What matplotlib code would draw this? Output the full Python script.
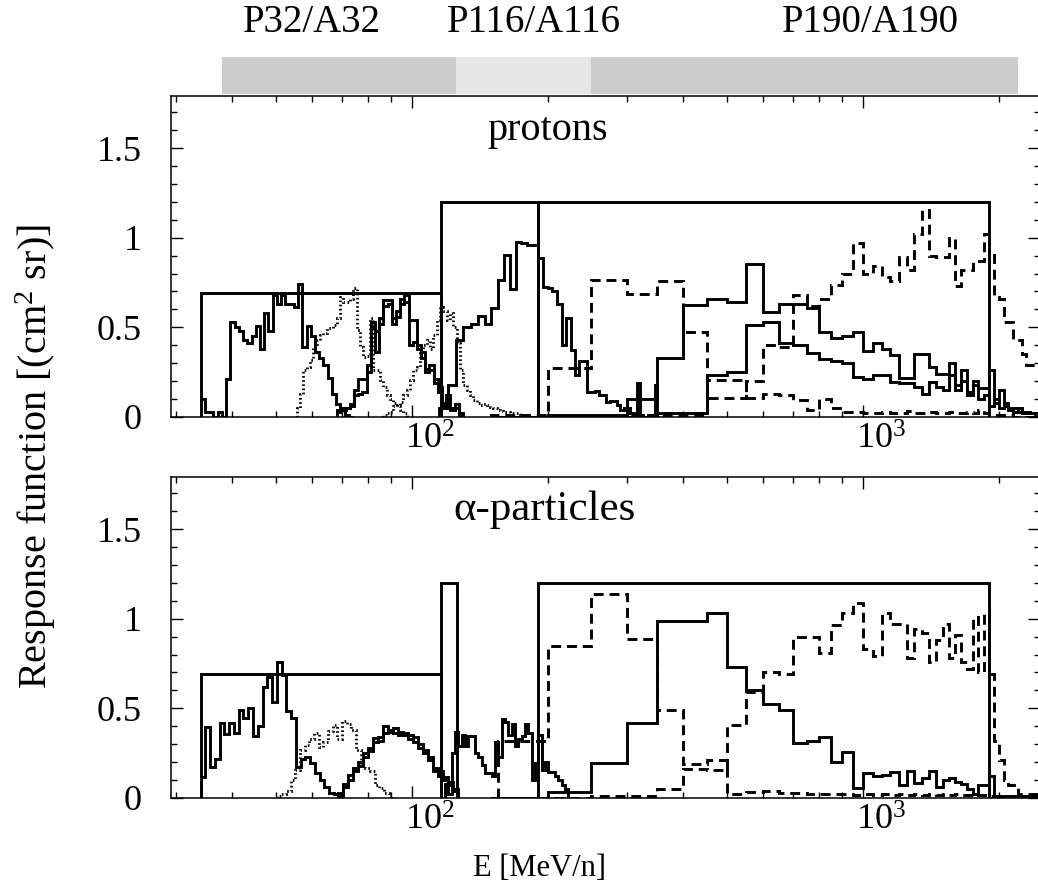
import numpy as np
import matplotlib
matplotlib.use("Agg")
import matplotlib.pyplot as plt
from matplotlib.ticker import LogLocator, NullFormatter, MultipleLocator, FuncFormatter
from matplotlib.transforms import blended_transform_factory, ScaledTranslation

plt.rcParams['font.family'] = ['Liberation Serif', 'DejaVu Serif']
plt.rcParams['mathtext.fontset'] = 'custom'
plt.rcParams['mathtext.rm'] = 'Liberation Serif'
plt.rcParams['mathtext.it'] = 'Liberation Serif:italic'

# ---------------- instrument ranges (top bar) ----------------
bar_edges = [38, 125, 250, 2200]
bar_colors = ['#cccccc', '#e6e6e6', '#cccccc']
bar_labels = ['P32/A32', 'P116/A116', 'P190/A190']
bar_label_pos = [60, 186, 1036]

# ---------------- geometric-factor boxes ----------------
p_box_edges = [(34.05, 116), (116, 190), (190, 1900)]
p_box_heights = [0.69, 1.2, 1.2]
a_box_edges = [(34.05, 116), (116, 126.1), (190, 1900)]
a_box_heights = [0.69, 1.2, 1.2]

# ---------------- protons ----------------
pA_range = (34.05, 74.1)
pA = [0.10, 0.03, 0.03, 0.0, 0.03, 0.0, 0.21, 0.53, 0.50, 0.48, 0.43, 0.41, 0.45, 0.51,
      0.38, 0.58, 0.48, 0.68, 0.63, 0.68, 0.63, 0.63, 0.615, 0.74, 0.39, 0.51, 0.45, 0.36,
      0.33, 0.29, 0.22, 0.13, 0.07, 0.04, 0.01, 0.0]
pB_range = (68.3, 129.9)
pB = [0.04, 0.05, 0.05, 0.07, 0.15, 0.21, 0.21, 0.29, 0.53, 0.48, 0.55, 0.65, 0.65, 0.55,
      0.59, 0.66, 0.68, 0.54, 0.54, 0.40, 0.36, 0.27, 0.29, 0.21, 0.17, 0.08, 0.10, 0.05,
      0.07, 0.02]
pB2 = [0.03, 0.04, 0.05, 0.06, 0.12, 0.13, 0.14, 0.25, 0.50, 0.36, 0.52, 0.62, 0.63, 0.52,
       0.56, 0.63, 0.64, 0.40, 0.42, 0.38, 0.33, 0.25, 0.26, 0.19, 0.14, 0.06, 0.12, 0.04,
       0.05, 0.01]
pD1_range = (55.57, 97.43)
pD1 = [0.05, 0.13, 0.26, 0.28, 0.317, 0.39, 0.43, 0.457, 0.47, 0.495, 0.495, 0.513, 0.55,
       0.67, 0.64, 0.64, 0.66, 0.72, 0.485, 0.39, 0.336, 0.34, 0.55, 0.26, 0.26, 0.206,
       0.17, 0.125, 0.10, 0.08, 0.06, 0.04, 0.02]
pD2_range = (86.48, 179.8)
pD2 = [0.01, 0.02, 0.03, 0.06, 0.065, 0.085, 0.125, 0.15, 0.206, 0.26, 0.28, 0.355, 0.40,
       0.43, 0.38, 0.457, 0.54, 0.615, 0.59, 0.54, 0.58, 0.50, 0.41, 0.26, 0.178, 0.15,
       0.123, 0.095, 0.077, 0.067, 0.07, 0.067, 0.058, 0.05, 0.04, 0.035, 0.03, 0.028,
       0.025, 0.02, 0.02, 0.015, 0.01]
pC_start, pC_step = 115, 5
pC = [0.05, 0.178, 0.43, 0.50, 0.52, 0.563, 0.518, 0.606, 0.764, 0.903, 0.714, 0.974,
      0.97, 0.96, 0.96, 0.885, 0.727, 0.72, 0.70, 0.628, 0.40, 0.55, 0.373, 0.234, 0.31,
      0.31, 0.141, 0.141, 0.145, 0.123, 0.123, 0.085, 0.09, 0.09, 0.067, 0.04, 0.05, 0.05,
      0.02, 0.01, 0.19, 0.01, 0.0, 0.0, 0.0, 0.01, 0.18, 0.0]
p190_start, p190_step = 150, 50
pSA = [0.0, 0.01, 0.01, 0.099, 0.327, 0.625, 0.66, 0.64, 0.853, 0.587,
       0.628, 0.628, 0.61, 0.476, 0.44, 0.45, 0.476, 0.37, 0.41, 0.377,
       0.345, 0.216, 0.216, 0.35, 0.35, 0.28, 0.24, 0.24, 0.30, 0.18,
       0.26, 0.14, 0.20, 0.16, 0.16, 0.26, 0.08, 0.15, 0.08, 0.05,
       0.05, 0.03, 0.03, 0.03, 0.02, 0.02]
pSB = [0.0, 0.0, 0.0, 0.0, 0.02, 0.02, 0.234, 0.25, 0.513, 0.527,
       0.41, 0.40, 0.355, 0.326, 0.315, 0.30, 0.225, 0.21, 0.235, 0.235,
       0.197, 0.19, 0.19, 0.168, 0.128, 0.197, 0.168, 0.15, 0.235, 0.15,
       0.20, 0.12, 0.18, 0.10, 0.12, 0.06, 0.10, 0.05, 0.06, 0.04,
       0.03, 0.05, 0.02, 0.02, 0.02, 0.01]
pDA = [0.01, 0.275, 0.764, 0.684, 0.757, 0.476, 0.205, 0.205, 0.104, 0.13,
       0.125, 0.095, 0.04, 0.10, 0.05, 0.03, 0.03, 0.025, 0.02, 0.03,
       0.02, 0.025, 0.035, 0.02, 0.02, 0.03, 0.025, 0.02, 0.03, 0.02,
       0.025, 0.03, 0.02, 0.04, 0.02, 0.01, 0.01, 0.01, 0.01, 0.01,
       0.0, 0.0, 0.0, 0.0, 0.0, 0.0]
pDB = [0.0, 0.0, 0.0, 0.01, 0.01, 0.01, 0.104, 0.104, 0.2, 0.4,
       0.39, 0.68, 0.62, 0.66, 0.736, 0.80, 0.972, 0.80, 0.84, 0.78,
       0.76, 0.89, 0.82, 1.02, 1.155, 0.90, 0.89, 0.89, 1.0, 0.73,
       0.82, 0.82, 0.87, 0.87, 1.02, 0.92, 0.67, 0.66, 0.53, 0.53,
       0.43, 0.43, 0.35, 0.29, 0.29, 0.29]

# ---------------- alpha particles ----------------
aA_range = (34.05, 70.5)
aA = [0.119, 0.398, 0.171, 0.22, 0.42, 0.355, 0.42, 0.36, 0.49, 0.444, 0.50, 0.347, 0.40,
      0.617, 0.673, 0.537, 0.76, 0.686, 0.485, 0.444, 0.175, 0.22, 0.23, 0.194, 0.14,
      0.10, 0.063, 0.03, 0.02, 0.01]
aB_range = (68.7, 126.8)
aB = [0.03, 0.08, 0.128, 0.165, 0.20, 0.249, 0.28, 0.336, 0.34, 0.40, 0.38, 0.39, 0.37,
      0.364, 0.35, 0.34, 0.30, 0.27, 0.23, 0.165, 0.148, 0.119, 0.09, 0.05]
aB2 = [0.02, 0.06, 0.10, 0.15, 0.18, 0.23, 0.26, 0.31, 0.32, 0.36, 0.37, 0.36, 0.35,
       0.35, 0.33, 0.31, 0.28, 0.25, 0.21, 0.15, 0.12, 0.10, 0.07, 0.04]
aD_range = (50.2, 91.0)
aD = [0.01, 0.02, 0.04, 0.10, 0.155, 0.27, 0.295, 0.33, 0.36, 0.285, 0.31, 0.375, 0.405,
      0.33, 0.43, 0.41, 0.38, 0.27, 0.185, 0.165, 0.15, 0.07, 0.055, 0.03, 0.01]
aC_range = (118.5, 222.3)
aC = [0.08, 0.02, 0.25, 0.37, 0.29, 0.35, 0.29, 0.346, 0.346, 0.25, 0.23, 0.184, 0.137,
      0.137, 0.12, 0.314, 0.23, 0.44, 0.425, 0.35, 0.41, 0.29, 0.33, 0.346, 0.41, 0.36,
      0.10, 0.194, 0.35, 0.156, 0.20, 0.147, 0.147, 0.12, 0.10, 0.073, 0.05]
a190_first_edge = 155
aSA = [0.0, 0.035, 0.197, 0.417, 0.989, 0.989, 1.03, 0.73, 0.60, 0.524,
       0.49, 0.305, 0.32, 0.34, 0.203, 0.258, 0.054, 0.141, 0.12, 0.13,
       0.147, 0.07, 0.15, 0.085, 0.11, 0.15, 0.06, 0.10, 0.11, 0.09,
       0.08, 0.05, 0.02, 0.07, 0.07, 0.12, 0.01, 0.01, 0.01, 0.01,
       0.01, 0.01, 0.01, 0.01, 0.01, 0.01]
aDA = [0.32, 0.848, 1.138, 0.885, 0.49, 0.19, 0.21, 0.02, 0.035, 0.04,
       0.03, 0.03, 0.02, 0.02, 0.02, 0.02, 0.015, 0.02, 0.015, 0.02,
       0.015, 0.02, 0.015, 0.02, 0.015, 0.02, 0.015, 0.02, 0.015, 0.02,
       0.015, 0.015, 0.02, 0.015, 0.015, 0.01, 0.01, 0.01, 0.01, 0.01,
       0.0, 0.0, 0.0, 0.0, 0.0, 0.0]
aDB = [0.0, 0.0, 0.01, 0.01, 0.05, 0.16, 0.155, 0.407, 0.593, 0.70,
       0.69, 0.90, 0.90, 0.81, 0.965, 1.03, 1.09, 0.83, 0.79, 1.03,
       0.97, 0.97, 0.78, 0.94, 0.92, 0.76, 0.88, 0.97, 0.78, 0.91,
       0.76, 0.72, 1.01, 0.70, 1.03, 0.69, 0.32, 0.21, 0.10, 0.07,
       0.07, 0.02, 0.02, 0.02, 0.02, 0.02]

xlim = (29.26, 2467)
ylim = (0, 1.79)
x_major = [100, 1000]

# ---------------- styles ----------------
solid = dict(color='black', lw=2.1)
dashed = dict(color='black', lw=2.1, linestyle=(0, (3.4, 2.0)))
dotted = dict(color='black', lw=2.0, linestyle=(0, (0.6, 0.9)))


def log_edges(rng, n):
    return np.geomspace(rng[0], rng[1], n + 1)


def lin_edges(start, step, n):
    return start + step * np.arange(n + 1)


def setup(ax, fig):
    ax.set_xscale('log')
    ax.set_xlim(*xlim)
    ax.set_ylim(*ylim)
    ax.set_xticks(x_major)
    ax.xaxis.set_minor_locator(LogLocator(base=10, subs=np.arange(2, 10), numticks=30))
    ax.xaxis.set_minor_formatter(NullFormatter())
    ax.yaxis.set_major_locator(MultipleLocator(0.5))
    ax.yaxis.set_minor_locator(MultipleLocator(0.1))
    ax.yaxis.set_major_formatter(FuncFormatter(lambda v, p: f'{v:g}'))
    ax.tick_params(which='both', direction='in', top=True, right=True, labelsize=26,
                   width=1.0, colors='black')
    ax.tick_params(which='major', length=8.5)
    ax.tick_params(which='minor', length=4.3)
    ax.tick_params(axis='y', pad=21)
    ax.tick_params(axis='x', pad=5)
    for s in ax.spines.values():
        s.set_linewidth(1.1)
    off = ScaledTranslation(18 / 100, 0, fig.dpi_scale_trans)
    for lbl in ax.get_xticklabels():
        lbl.set_transform(lbl.get_transform() + off)


fig = plt.figure(figsize=(10.38, 8.92), dpi=100)
L = 171 / 1038
W = (1040 - 171) / 1038
H = 321 / 892
ax_p = fig.add_axes([L, (892 - 417) / 892, W, H])
ax_a = fig.add_axes([L, (892 - 798) / 892, W, H])
ax_bar = fig.add_axes([L, (892 - 94) / 892, W, 37 / 892])

# --- instrument bar ---
ax_bar.set_xscale('log')
ax_bar.set_xlim(*xlim)
ax_bar.set_ylim(0, 1)
for i in range(len(bar_colors)):
    ax_bar.axvspan(bar_edges[i], bar_edges[i + 1], color=bar_colors[i], lw=0)
ax_bar.axis('off')
tr = blended_transform_factory(ax_bar.transData, fig.transFigure)
for lab, xp in zip(bar_labels, bar_label_pos):
    ax_bar.text(xp, 1 - 22 / 892, lab, transform=tr, ha='center', va='center', fontsize=28)

# --- protons ---
setup(ax_p, fig)
for (e0, e1), h in zip(p_box_edges, p_box_heights):
    ax_p.stairs([h], [e0, e1], baseline=0, **solid)
ax_p.stairs(pA, log_edges(pA_range, len(pA)), baseline=0, **solid)
ax_p.stairs(pB, log_edges(pB_range, len(pB)), baseline=0, **solid)
ax_p.stairs(pB2, log_edges(pB_range, len(pB2)), baseline=0, **solid)
ax_p.stairs(pD1, log_edges(pD1_range, len(pD1)), baseline=0, **dotted)
ax_p.stairs(pD2, log_edges(pD2_range, len(pD2)), baseline=0, **dotted)
ax_p.stairs(pC, lin_edges(pC_start, pC_step, len(pC)), baseline=0, **solid)
e190 = lin_edges(p190_start, p190_step, len(pSA))
ax_p.stairs(pSA, e190, baseline=0, **solid)
ax_p.stairs(pSB, e190, baseline=0, **solid)
ax_p.stairs(pDA, e190, baseline=0, **dashed)
ax_p.stairs(pDB, e190, baseline=0, **dashed)
ax_p.text(0.433, 0.893, 'protons', transform=ax_p.transAxes, ha='center', va='center',
          fontsize=29)

# --- alphas ---
setup(ax_a, fig)
for (e0, e1), h in zip(a_box_edges, a_box_heights):
    ax_a.stairs([h], [e0, e1], baseline=0, **solid)
ax_a.stairs(aA, log_edges(aA_range, len(aA)), baseline=0, **solid)
ax_a.stairs(aB, log_edges(aB_range, len(aB)), baseline=0, **solid)
ax_a.stairs(aB2, log_edges(aB_range, len(aB2)), baseline=0, **solid)
ax_a.stairs(aD, log_edges(aD_range, len(aD)), baseline=0, **dotted)
ax_a.stairs(aC, log_edges(aC_range, len(aC)), baseline=0, **solid)
ea = lin_edges(p190_start, p190_step, len(aSA))
ax_a.stairs(aSA, ea, baseline=0, **solid)
ea_d = ea.copy()
ea_d[0] = a190_first_edge
ax_a.stairs(aDA, ea_d, baseline=0, **dashed)
ax_a.stairs(aDB, ea, baseline=0, **dashed)
ax_a.text(0.43, 0.897, 'α-particles', transform=ax_a.transAxes, ha='center', va='center',
          fontsize=31)

fig.text(0.52, 1 - 868 / 892, 'E [MeV/n]', ha='center', va='center', fontsize=22)
fig.text(0.034, 1 - 457 / 892, 'Response function [(cm$^{2}$ sr)]', ha='center', va='center',
         rotation=90, fontsize=29)

fig.savefig('out.png', dpi=100)
